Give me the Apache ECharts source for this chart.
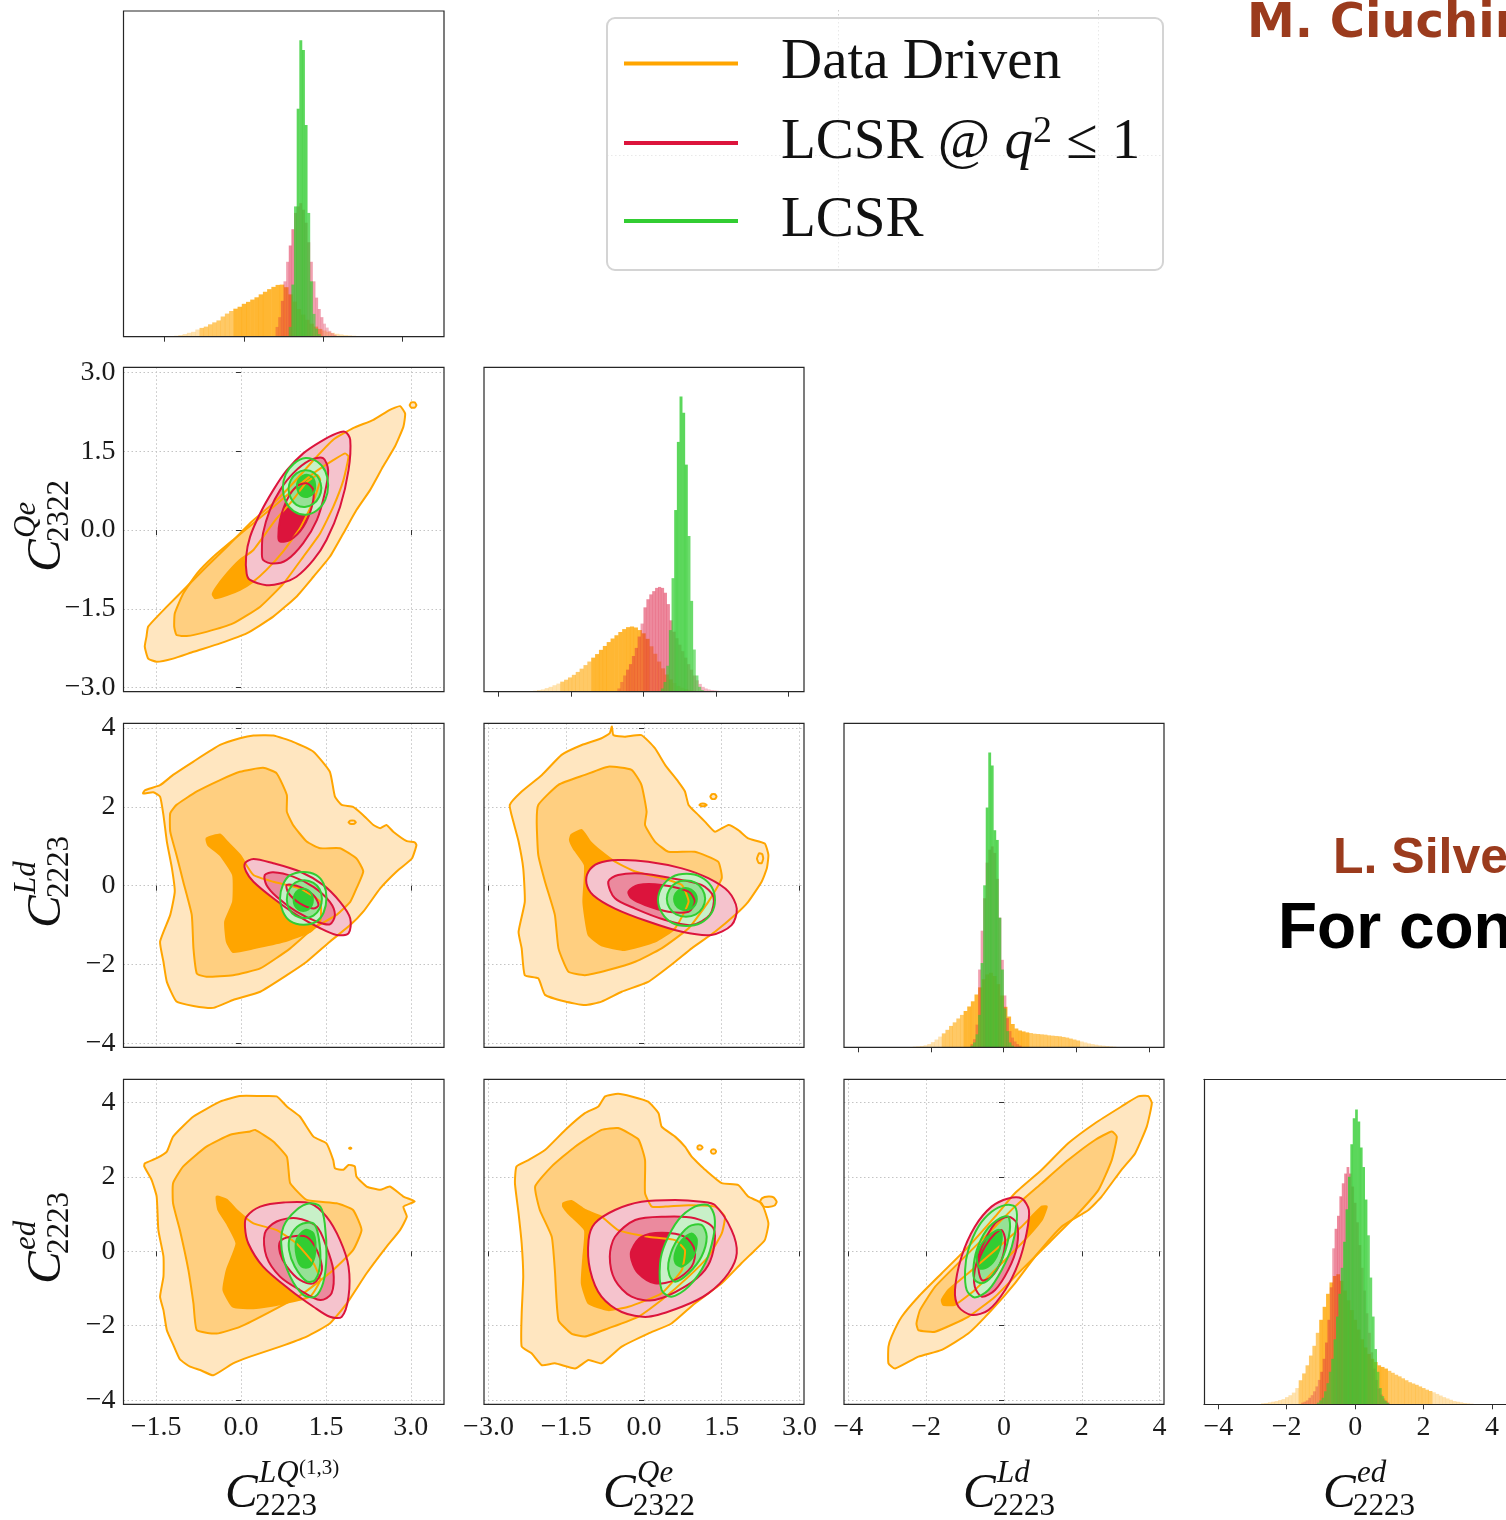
<!DOCTYPE html>
<html>
<head>
<meta charset="utf-8">
<script src="https://cdn.jsdelivr.net/npm/echarts@6/dist/echarts.min.js"></script>
<style>
  html, body { margin: 0; padding: 0; background: #ffffff; }
  #chart { width: 1506px; height: 1520px; }
</style>
</head>
<body>
<div id="chart"></div>
<script>
// ---------------------------------------------------------------------------
// Series names
// ---------------------------------------------------------------------------
const N_DD = 'Data Driven';
const N_LQ1 = 'LCSR @ q\u00b2 \u2264 1';
const N_LCSR = 'LCSR';

// ---------------------------------------------------------------------------
// 1-D marginals: [first bin edge, bin width] and bin heights (relative density)
// ---------------------------------------------------------------------------
// C_2223^LQ(1,3)
const binLQ_dd = [-1.32, 0.08];
const hLQ_dd = [0.003,0.005,0.008,0.012,0.015,0.022,0.027,0.031,0.038,0.044,0.05,0.062,0.071,0.079,0.086,0.092,0.101,0.107,0.114,0.121,0.13,0.138,0.146,0.153,0.159,0.16,0.152,0.13,0.108,0.085,0.068,0.052,0.04,0.031,0.024,0.019,0.015,0.012,0.009,0.007,0.005,0.004,0.003,0.002];
const binLQ_lq1 = [0.60, 0.05];
const hLQ_lq1 = [0.03,0.06,0.11,0.17,0.23,0.28,0.33,0.38,0.40,0.41,0.39,0.35,0.29,0.23,0.17,0.12,0.085,0.06,0.04,0.028,0.018,0.011,0.006];
const binLQ_lcsr = [0.85, 0.05];
const hLQ_lcsr = [0.03,0.16,0.40,0.70,0.91,0.88,0.65,0.38,0.17,0.07,0.025,0.008];

// C_2322^Qe
const binQe_dd = [-2.28, 0.08];
const hQe_dd = [0.003,0.005,0.007,0.011,0.015,0.02,0.025,0.031,0.037,0.044,0.052,0.061,0.071,0.082,0.093,0.105,0.116,0.129,0.141,0.153,0.164,0.174,0.184,0.193,0.199,0.201,0.198,0.19,0.18,0.163,0.14,0.117,0.093,0.072,0.053,0.038,0.027,0.018,0.012,0.008,0.005,0.003,0.002];
const binQe_lq1 = [-0.54, 0.06];
const hQe_lq1 = [0.01,0.03,0.05,0.068,0.085,0.11,0.135,0.17,0.21,0.26,0.285,0.30,0.31,0.32,0.323,0.32,0.305,0.27,0.22,0.185,0.165,0.145,0.125,0.105,0.085,0.068,0.05,0.035,0.024,0.015,0.01,0.007,0.005,0.004,0.003,0.002];
const binQe_lcsr = [0.36, 0.055];
const hQe_lcsr = [0.01,0.03,0.08,0.19,0.35,0.56,0.77,0.91,0.86,0.70,0.48,0.28,0.13,0.05,0.015,0.005];

// C_2223^Ld
const binLd_dd = [-2.5, 0.1];
const hLd_dd = [0.002,0.003,0.004,0.006,0.01,0.016,0.024,0.033,0.043,0.054,0.066,0.077,0.089,0.10,0.112,0.126,0.142,0.163,0.185,0.21,0.225,0.23,0.22,0.195,0.16,0.125,0.095,0.072,0.058,0.052,0.049,0.046,0.044,0.042,0.041,0.04,0.039,0.037,0.036,0.035,0.034,0.032,0.03,0.027,0.024,0.021,0.018,0.015,0.012,0.01,0.008,0.006,0.005,0.004,0.003,0.002,0.001];
const binLd_lq1 = [-0.91, 0.07];
const hLd_lq1 = [0.01,0.025,0.07,0.24,0.36,0.46,0.57,0.61,0.62,0.60,0.52,0.40,0.27,0.16,0.09,0.05,0.03,0.018,0.01,0.005];
const binLd_lcsr = [-0.91, 0.07];
const hLd_lcsr = [0.005,0.015,0.04,0.10,0.26,0.50,0.74,0.91,0.87,0.67,0.64,0.40,0.24,0.12,0.05,0.015,0.005];

// C_2223^ed
const binEd_dd = [-2.75, 0.1];
const hEd_dd = [0.003,0.004,0.006,0.008,0.010,0.013,0.016,0.022,0.028,0.036,0.05,0.074,0.095,0.12,0.15,0.18,0.22,0.26,0.30,0.34,0.375,0.395,0.40,0.38,0.35,0.32,0.29,0.26,0.23,0.20,0.175,0.155,0.14,0.13,0.12,0.115,0.11,0.103,0.097,0.091,0.086,0.08,0.074,0.068,0.064,0.06,0.055,0.05,0.045,0.041,0.037,0.032,0.027,0.022,0.018,0.014,0.01,0.008,0.006,0.004,0.003,0.002,0.001];
const binEd_lq1 = [-1.58, 0.07];
const hEd_lq1 = [0.005,0.008,0.012,0.02,0.028,0.04,0.055,0.075,0.10,0.14,0.19,0.26,0.36,0.48,0.54,0.58,0.64,0.68,0.71,0.73,0.71,0.67,0.62,0.56,0.49,0.42,0.35,0.28,0.22,0.16,0.11,0.075,0.048,0.03,0.018,0.01,0.005];
const binEd_lcsr = [-1.12, 0.07];
const hEd_lcsr = [0.005,0.012,0.02,0.04,0.065,0.10,0.14,0.20,0.27,0.34,0.42,0.50,0.60,0.70,0.80,0.88,0.907,0.87,0.79,0.73,0.63,0.52,0.39,0.27,0.17,0.10,0.05,0.025,0.012,0.005];

// ---------------------------------------------------------------------------
// 2-D credible regions: [outer, middle, inner] contour paths, plus stray islands
// ---------------------------------------------------------------------------
// x: LQ, y: Qe
const cLQQe_dd = [
  [[-1.64,-1.84],[-1.31,-1.46],[-0.96,-1.08],[-0.61,-0.70],[-0.22,-0.29],[0.16,0.13],[0.57,0.51],[0.92,0.89],[1.28,1.33],[1.63,1.72],[1.98,1.94],[2.34,2.10],[2.63,2.29],[2.81,2.36],[2.90,2.22],[2.87,1.97],[2.72,1.59],[2.51,1.21],[2.28,0.76],[2.04,0.38],[1.81,-0.06],[1.57,-0.51],[1.28,-0.89],[0.98,-1.27],[0.57,-1.65],[0.10,-1.97],[-0.37,-2.16],[-0.84,-2.32],[-1.20,-2.45],[-1.49,-2.51],[-1.64,-2.45],[-1.70,-2.22],[-1.67,-2.03]],
  [[-1.18,-1.84],[-1.14,-2.00],[-0.96,-2.02],[-0.61,-1.94],[-0.14,-1.78],[0.34,-1.46],[0.75,-1.02],[1.10,-0.51],[1.40,-0.06],[1.63,0.44],[1.81,0.95],[1.90,1.40],[1.84,1.46],[1.63,1.33],[1.28,1.08],[0.92,0.76],[0.57,0.44],[0.22,0.13],[-0.14,-0.19],[-0.49,-0.51],[-0.78,-0.83],[-1.02,-1.21],[-1.17,-1.59]],
  [[-0.50,-1.22],[-0.46,-1.30],[-0.25,-1.24],[-0.02,-1.14],[0.22,-0.98],[0.45,-0.76],[0.75,-0.40],[1.05,0.05],[1.28,0.55],[1.40,0.95],[1.35,1.05],[1.15,0.90],[0.90,0.55],[0.60,0.18],[0.22,-0.38],[-0.02,-0.57],[-0.25,-0.83],[-0.43,-1.08]]
];
const cLQQe_ddIsl = [
  [[3.10,2.38],[3.07,2.43],[3.01,2.43],[2.98,2.38],[3.01,2.33],[3.07,2.33]]
];
const cLQQe_lq1 = [
  [[0.16,-0.95],[0.45,-1.05],[0.69,-1.02],[0.98,-0.89],[1.28,-0.57],[1.51,-0.19],[1.75,0.44],[1.90,1.14],[1.93,1.72],[1.84,1.87],[1.69,1.84],[1.40,1.68],[1.10,1.46],[0.81,1.14],[0.57,0.76],[0.34,0.32],[0.16,-0.13],[0.09,-0.51],[0.10,-0.83]],
  [[0.39,-0.57],[0.57,-0.64],[0.81,-0.57],[1.10,-0.25],[1.34,0.19],[1.48,0.70],[1.54,1.14],[1.45,1.37],[1.22,1.33],[0.92,1.08],[0.69,0.76],[0.51,0.38],[0.39,-0.06],[0.37,-0.38]],
  [[0.69,-0.22],[0.87,-0.19],[1.10,0.06],[1.25,0.44],[1.28,0.76],[1.16,0.89],[0.98,0.83],[0.81,0.57],[0.69,0.19],[0.66,-0.13]]
];
const cLQQe_lcsr = [
  [[1.54,0.86],[1.49,1.12],[1.35,1.30],[1.14,1.37],[0.93,1.26],[0.79,1.06],[0.74,0.80],[0.79,0.54],[0.93,0.36],[1.14,0.29],[1.35,0.38],[1.49,0.58]],
  [[1.42,0.80],[1.38,0.97],[1.28,1.10],[1.13,1.14],[0.98,1.08],[0.88,0.95],[0.84,0.78],[0.88,0.61],[0.98,0.48],[1.13,0.44],[1.28,0.50],[1.38,0.63]],
  [[1.31,0.86],[1.28,0.98],[1.21,1.04],[1.13,1.05],[1.05,1.00],[1.00,0.92],[0.99,0.82],[1.02,0.71],[1.09,0.64],[1.17,0.63],[1.25,0.67],[1.30,0.75]]
];

// x: LQ, y: Ld
const cLQLd_dd = [
  [[-1.73,2.34],[-1.55,2.37],[-1.43,2.26],[-1.37,1.79],[-1.31,1.12],[-1.22,0.44],[-1.17,-0.15],[-1.25,-0.74],[-1.43,-1.42],[-1.37,-1.93],[-1.31,-2.44],[-1.14,-2.94],[-0.84,-3.05],[-0.49,-3.10],[-0.14,-2.90],[0.34,-2.69],[0.81,-2.27],[1.16,-1.93],[1.57,-1.42],[1.93,-1.00],[2.16,-0.66],[2.46,-0.07],[2.75,0.36],[3.02,0.69],[3.10,1.03],[3.07,1.10],[2.93,1.13],[2.69,1.37],[2.57,1.54],[2.46,1.46],[2.34,1.54],[2.16,1.79],[1.98,2.00],[1.78,2.05],[1.66,2.26],[1.57,2.89],[1.28,3.40],[0.92,3.65],[0.57,3.81],[0.22,3.81],[-0.02,3.74],[-0.37,3.57],[-0.84,3.15],[-1.20,2.81],[-1.43,2.55],[-1.70,2.42]],
  [[-1.25,1.84],[-1.14,2.05],[-0.78,2.39],[-0.37,2.68],[-0.02,2.89],[0.39,2.99],[0.63,2.85],[0.81,2.30],[0.81,1.88],[0.92,1.54],[1.16,1.12],[1.40,0.95],[1.75,0.95],[2.04,0.69],[2.16,0.36],[2.04,-0.07],[1.93,-0.41],[1.69,-0.74],[1.28,-1.08],[0.87,-1.59],[0.34,-2.10],[-0.14,-2.27],[-0.61,-2.31],[-0.78,-2.23],[-0.84,-1.59],[-0.87,-0.74],[-1.02,0.10],[-1.14,0.78],[-1.25,1.37]],
  [[-0.61,1.20],[-0.37,1.30],[-0.25,1.12],[-0.02,0.78],[0.22,0.27],[0.57,0.10],[1.04,-0.07],[1.40,-0.41],[1.40,-0.91],[1.22,-1.17],[0.75,-1.42],[0.22,-1.59],[-0.14,-1.68],[-0.25,-1.42],[-0.28,-0.91],[-0.14,-0.41],[-0.14,0.27],[-0.37,0.78],[-0.58,1.03]]
];
const cLQLd_ddIsl = [
  [[2.03,1.61],[2.00,1.65],[1.93,1.65],[1.90,1.61],[1.93,1.57],[2.00,1.57]]
];
const cLQLd_lq1 = [
  [[0.07,0.57],[0.22,0.68],[0.57,0.57],[1.04,0.36],[1.45,0.02],[1.75,-0.41],[1.93,-0.83],[1.90,-1.21],[1.69,-1.25],[1.40,-1.08],[0.98,-0.74],[0.57,-0.32],[0.22,0.10],[0.09,0.36]],
  [[0.42,0.27],[0.57,0.34],[0.92,0.23],[1.28,-0.03],[1.57,-0.41],[1.66,-0.74],[1.57,-0.98],[1.34,-0.91],[0.98,-0.66],[0.63,-0.28],[0.45,0.02]],
  [[0.81,0.02],[1.04,-0.03],[1.28,-0.24],[1.37,-0.49],[1.28,-0.58],[1.04,-0.45],[0.84,-0.19]]
];
const cLQLd_lcsr = [
  [[1.51,-0.30],[1.46,0.05],[1.33,0.27],[1.10,0.35],[0.86,0.26],[0.74,0.02],[0.69,-0.32],[0.74,-0.66],[0.87,-0.90],[1.10,-0.99],[1.33,-0.91],[1.46,-0.68]],
  [[1.43,-0.33],[1.39,-0.09],[1.28,0.07],[1.12,0.14],[0.96,0.08],[0.85,-0.10],[0.81,-0.35],[0.85,-0.59],[0.96,-0.76],[1.12,-0.82],[1.28,-0.76],[1.39,-0.58]],
  [[1.27,-0.36],[1.25,-0.22],[1.19,-0.12],[1.10,-0.08],[1.01,-0.12],[0.95,-0.22],[0.93,-0.36],[0.95,-0.50],[1.01,-0.60],[1.10,-0.64],[1.19,-0.60],[1.25,-0.50]]
];

// x: Qe, y: Ld
const cQeLd_dd = [
  [[-2.59,2.05],[-2.36,2.39],[-1.97,2.81],[-1.59,3.32],[-1.20,3.57],[-0.82,3.74],[-0.66,3.87],[-0.62,4.04],[-0.59,3.82],[-0.37,3.78],[-0.05,3.82],[0.21,3.49],[0.41,3.06],[0.66,2.64],[0.79,2.39],[0.86,2.05],[1.05,1.79],[1.18,1.62],[1.37,1.37],[1.63,1.54],[1.82,1.41],[2.01,1.20],[2.33,1.07],[2.40,0.78],[2.37,0.44],[2.27,0.10],[2.01,-0.41],[1.76,-0.74],[1.37,-1.17],[0.92,-1.59],[0.60,-1.93],[0.08,-2.44],[-0.43,-2.69],[-0.82,-2.94],[-1.14,-3.03],[-1.52,-2.94],[-1.91,-2.77],[-2.04,-2.35],[-2.30,-2.27],[-2.36,-1.59],[-2.42,-1.17],[-2.30,-0.41],[-2.33,0.44],[-2.42,1.12],[-2.52,1.62]],
  [[-2.04,2.05],[-1.65,2.56],[-1.14,2.81],[-0.69,3.02],[-0.24,2.94],[-0.05,2.56],[0.05,1.88],[0.02,1.54],[0.21,1.12],[0.47,0.86],[0.98,0.86],[1.43,0.61],[1.50,0.19],[1.24,-0.41],[0.86,-1.08],[0.34,-1.59],[-0.17,-1.93],[-0.69,-2.14],[-1.14,-2.27],[-1.46,-2.18],[-1.65,-1.59],[-1.72,-0.74],[-1.91,0.10],[-2.04,0.78],[-2.07,1.62]],
  [[-1.40,1.29],[-1.20,1.41],[-1.04,1.12],[-0.82,0.86],[-0.56,0.61],[-0.17,0.36],[0.34,0.19],[0.73,0.02],[0.86,-0.41],[0.60,-1.08],[0.21,-1.42],[-0.37,-1.63],[-0.82,-1.51],[-1.07,-1.25],[-1.17,-0.41],[-1.14,0.52],[-1.36,0.95],[-1.43,1.16]]
];
const cQeLd_ddIsl = [
  [[1.40,2.26],[1.37,2.32],[1.31,2.32],[1.28,2.26],[1.31,2.20],[1.37,2.20]],
  [[1.21,2.05],[1.17,2.08],[1.10,2.08],[1.07,2.05],[1.10,2.02],[1.17,2.02]],
  [[2.30,0.69],[2.28,0.80],[2.22,0.82],[2.18,0.69],[2.21,0.58],[2.27,0.57]]
];
const cQeLd_lq1 = [
  [[-1.07,0.36],[-0.88,0.57],[-0.50,0.65],[0.08,0.61],[0.73,0.44],[1.24,0.19],[1.63,-0.15],[1.79,-0.58],[1.69,-1.00],[1.30,-1.25],[0.73,-1.17],[0.08,-0.91],[-0.56,-0.58],[-0.98,-0.24],[-1.11,0.06]],
  [[-0.69,0.10],[-0.50,0.27],[-0.05,0.31],[0.53,0.19],[1.11,0.02],[1.34,-0.28],[1.27,-0.74],[0.92,-1.00],[0.41,-0.87],[-0.17,-0.58],[-0.56,-0.32]],
  [[-0.30,-0.15],[-0.11,0.02],[0.34,0.02],[0.86,-0.15],[0.98,-0.41],[0.86,-0.66],[0.47,-0.66],[0.02,-0.49],[-0.24,-0.32]]
];
const cQeLd_lcsr = [
  [[1.37,-0.36],[1.30,-0.02],[1.10,0.22],[0.82,0.30],[0.54,0.22],[0.35,-0.02],[0.27,-0.36],[0.35,-0.70],[0.54,-0.94],[0.82,-1.02],[1.10,-0.94],[1.30,-0.70]],
  [[1.18,-0.33],[1.13,-0.10],[1.00,0.07],[0.81,0.13],[0.62,0.07],[0.49,-0.10],[0.44,-0.33],[0.49,-0.56],[0.62,-0.73],[0.81,-0.79],[1.00,-0.73],[1.13,-0.56]],
  [[1.02,-0.34],[0.99,-0.20],[0.91,-0.10],[0.80,-0.06],[0.69,-0.10],[0.61,-0.20],[0.58,-0.34],[0.61,-0.48],[0.69,-0.58],[0.80,-0.62],[0.91,-0.58],[0.99,-0.48]]
];

// x: LQ, y: ed
const cLQEd_dd = [
  [[-1.70,2.36],[-1.49,2.50],[-1.31,2.68],[-1.20,3.08],[-0.84,3.62],[-0.37,4.02],[-0.02,4.17],[0.34,4.17],[0.63,4.16],[0.81,3.89],[1.04,3.62],[1.28,3.08],[1.51,2.90],[1.63,2.45],[1.66,2.23],[1.81,2.19],[1.90,2.32],[2.01,2.28],[2.04,2.01],[2.22,1.74],[2.46,1.65],[2.63,1.74],[2.87,1.47],[3.07,1.34],[2.87,1.20],[2.93,0.93],[2.81,0.57],[2.57,0.12],[2.22,-0.59],[1.87,-1.40],[1.57,-1.94],[1.16,-2.29],[0.69,-2.56],[0.16,-2.83],[-0.14,-3.01],[-0.49,-3.33],[-0.72,-3.19],[-0.90,-3.10],[-1.08,-2.90],[-1.20,-2.50],[-1.31,-2.12],[-1.37,-1.58],[-1.43,-1.22],[-1.37,-0.68],[-1.37,-0.14],[-1.46,0.57],[-1.49,1.47],[-1.58,1.92],[-1.71,2.28]],
  [[-1.20,1.83],[-1.02,2.28],[-0.61,2.81],[-0.19,3.13],[0.16,3.22],[0.25,3.26],[0.57,2.95],[0.81,2.54],[0.84,2.19],[0.87,1.83],[1.16,1.38],[1.69,1.29],[1.98,1.11],[2.13,0.57],[1.98,0.03],[1.63,-0.50],[1.10,-1.13],[0.57,-1.58],[-0.02,-2.03],[-0.43,-2.21],[-0.78,-2.12],[-0.84,-1.40],[-0.93,-0.50],[-1.08,0.57],[-1.20,1.29]],
  [[-0.43,1.47],[-0.25,1.38],[-0.08,1.11],[0.22,0.75],[0.63,0.57],[0.98,0.21],[1.28,-0.32],[1.40,-0.77],[1.22,-1.22],[0.75,-1.40],[0.22,-1.53],[-0.14,-1.49],[-0.31,-1.04],[-0.25,-0.50],[-0.08,0.21],[-0.25,0.75],[-0.40,1.11]]
];
const cLQEd_ddIsl = [
  [[1.95,2.77],[1.93,2.79],[1.91,2.77],[1.93,2.75]]
];
const cLQEd_lq1 = [
  [[0.10,0.93],[0.34,1.20],[0.75,1.31],[1.22,1.29],[1.51,0.93],[1.75,0.30],[1.90,-0.41],[1.90,-1.22],[1.78,-1.76],[1.57,-1.76],[1.28,-1.49],[0.87,-1.04],[0.39,-0.41],[0.13,0.21],[0.07,0.66]],
  [[0.42,0.48],[0.63,0.80],[0.98,0.89],[1.34,0.66],[1.51,0.12],[1.63,-0.50],[1.60,-1.13],[1.40,-1.31],[1.04,-1.04],[0.69,-0.68],[0.45,-0.14]],
  [[0.69,0.26],[0.87,0.39],[1.16,0.39],[1.34,0.03],[1.43,-0.50],[1.28,-0.86],[1.04,-0.77],[0.81,-0.41],[0.69,-0.05]]
];
const cLQEd_lcsr = [
  [[0.75,0.66],[0.98,1.11],[1.22,1.29],[1.40,1.20],[1.48,0.75],[1.51,-0.14],[1.45,-0.86],[1.31,-1.22],[1.10,-1.17],[0.87,-0.68],[0.72,0.03]],
  [[0.87,0.39],[1.04,0.71],[1.28,0.75],[1.37,0.39],[1.40,-0.32],[1.31,-0.77],[1.16,-0.81],[0.95,-0.41],[0.85,0.03]],
  [[0.98,0.30],[1.13,0.57],[1.28,0.48],[1.31,-0.05],[1.22,-0.41],[1.07,-0.41],[0.98,-0.10]]
];

// x: Qe, y: ed
const cQeEd_dd = [
  [[-2.46,2.28],[-2.23,2.45],[-1.91,2.72],[-1.52,3.26],[-1.14,3.71],[-0.88,3.89],[-0.75,4.16],[-0.50,4.23],[-0.24,4.16],[0.08,4.02],[0.28,3.71],[0.34,3.35],[0.60,3.08],[0.79,2.81],[0.92,2.54],[1.05,2.36],[1.18,2.19],[1.50,1.83],[1.82,1.78],[2.01,1.47],[2.27,1.29],[2.40,0.75],[2.33,0.30],[2.14,0.03],[1.88,-0.32],[1.50,-0.86],[0.98,-1.40],[0.53,-1.94],[0.08,-2.21],[-0.43,-2.56],[-0.82,-3.01],[-1.07,-2.92],[-1.33,-3.15],[-1.72,-3.01],[-1.97,-3.06],[-2.17,-2.74],[-2.36,-2.56],[-2.36,-1.67],[-2.33,-0.68],[-2.36,0.21],[-2.42,1.02],[-2.49,1.83]],
  [[-2.10,1.74],[-1.78,2.28],[-1.33,2.81],[-0.82,3.26],[-0.50,3.31],[-0.11,3.01],[0.02,2.45],[0.02,1.56],[0.15,1.20],[0.41,1.20],[0.86,1.24],[1.37,1.20],[1.56,0.93],[1.50,0.48],[1.24,-0.14],[0.86,-0.68],[0.34,-1.31],[-0.11,-1.76],[-0.69,-2.07],[-1.14,-2.29],[-1.40,-2.21],[-1.65,-1.85],[-1.72,-0.50],[-1.78,0.39],[-2.01,1.11]],
  [[-1.56,1.29],[-1.40,1.35],[-1.14,1.11],[-0.82,0.93],[-0.50,0.57],[0.08,0.39],[0.60,0.30],[0.79,0.03],[0.73,-0.50],[0.34,-1.13],[-0.30,-1.49],[-0.69,-1.58],[-1.07,-1.40],[-1.20,-0.86],[-1.17,-0.14],[-1.14,0.57],[-1.46,1.02],[-1.56,1.20]]
];
const cQeEd_ddIsl = [
  [[1.13,2.79],[1.10,2.84],[1.05,2.84],[1.03,2.79],[1.05,2.74],[1.10,2.74]],
  [[1.39,2.68],[1.37,2.73],[1.31,2.73],[1.29,2.68],[1.31,2.63],[1.37,2.63]],
  [[2.56,1.33],[2.50,1.45],[2.40,1.47],[2.28,1.43],[2.24,1.33],[2.30,1.21],[2.40,1.19],[2.52,1.23]]
];
const cQeEd_lq1 = [
  [[-1.07,0.30],[-0.95,0.75],[-0.56,1.11],[-0.05,1.33],[0.60,1.38],[1.11,1.33],[1.37,1.24],[1.69,0.57],[1.79,-0.05],[1.63,-0.59],[1.24,-1.13],[0.73,-1.49],[0.08,-1.76],[-0.43,-1.63],[-0.82,-1.22],[-1.04,-0.50]],
  [[-0.66,-0.14],[-0.56,0.39],[-0.17,0.84],[0.41,0.93],[0.98,0.89],[1.34,0.62],[1.34,0.03],[1.18,-0.50],[0.79,-0.95],[0.21,-1.31],[-0.24,-1.22],[-0.56,-0.77]],
  [[-0.24,0.03],[-0.05,0.39],[0.34,0.50],[0.79,0.39],[0.98,0.03],[0.92,-0.41],[0.60,-0.77],[0.21,-0.86],[-0.11,-0.59],[-0.24,-0.23]]
];
const cQeEd_lcsr = [
  [[0.31,-0.32],[0.41,0.21],[0.66,0.84],[0.98,1.20],[1.24,1.24],[1.36,0.93],[1.34,0.39],[1.18,-0.32],[0.86,-0.95],[0.53,-1.22],[0.34,-1.04]],
  [[0.47,-0.32],[0.60,0.21],[0.86,0.66],[1.11,0.71],[1.21,0.39],[1.11,-0.14],[0.86,-0.59],[0.60,-0.82],[0.49,-0.64]],
  [[0.60,-0.05],[0.73,0.30],[0.92,0.48],[1.02,0.30],[0.95,-0.14],[0.73,-0.41],[0.61,-0.32]]
];

// x: Ld, y: ed
const cLdEd_dd = [
  [[-2.97,-2.56],[-2.97,-3.01],[-2.80,-3.15],[-2.20,-2.83],[-1.60,-2.65],[-0.92,-2.21],[-0.32,-1.58],[0.28,-0.86],[0.80,-0.14],[1.48,0.66],[2.17,1.11],[2.51,1.47],[3.02,2.19],[3.37,2.63],[3.67,3.35],[3.80,3.98],[3.71,4.17],[3.45,4.16],[3.02,3.89],[2.34,3.44],[1.65,2.90],[0.97,2.19],[0.28,1.56],[-0.23,0.93],[-0.92,0.12],[-1.60,-0.59],[-2.20,-1.22],[-2.63,-1.76],[-2.89,-2.29]],
  [[-2.25,-1.94],[-2.20,-2.12],[-1.77,-2.16],[-0.92,-1.76],[-0.23,-1.22],[0.45,-0.50],[1.14,0.21],[1.83,0.93],[2.43,1.65],[2.77,2.45],[2.90,3.08],[2.77,3.22],[2.34,2.99],[1.65,2.45],[0.97,1.83],[0.28,1.20],[-0.40,0.48],[-1.09,-0.23],[-1.77,-0.95],[-2.16,-1.58]],
  [[-1.60,-1.31],[-1.43,-1.04],[-0.92,-0.59],[-0.23,0.03],[0.45,0.66],[0.97,1.20],[1.10,1.20],[0.97,0.84],[0.45,0.21],[-0.23,-0.50],[-0.75,-1.04],[-1.26,-1.44],[-1.56,-1.44]]
];
const cLdEd_lq1 = [
  [[-1.26,-1.04],[-1.09,-0.14],[-0.75,0.66],[-0.32,1.20],[0.11,1.42],[0.45,1.42],[0.64,1.11],[0.58,0.48],[0.37,-0.32],[0.03,-1.04],[-0.40,-1.58],[-0.83,-1.71],[-1.17,-1.49]],
  [[-0.75,-0.50],[-0.57,0.12],[-0.23,0.75],[0.11,0.93],[0.33,0.75],[0.33,0.12],[0.11,-0.50],[-0.23,-1.04],[-0.57,-1.22],[-0.75,-0.95]],
  [[-0.66,-0.32],[-0.49,0.12],[-0.23,0.48],[-0.06,0.57],[0.03,0.30],[-0.06,-0.23],[-0.32,-0.68],[-0.57,-0.77]]
];
const cLdEd_lcsr = [
  [[-1.00,-0.50],[-0.92,0.03],[-0.66,0.66],[-0.32,1.06],[0.03,1.24],[0.28,1.20],[0.33,0.84],[0.20,0.12],[-0.06,-0.50],[-0.40,-1.04],[-0.75,-1.24],[-0.96,-1.04]],
  [[-0.79,-0.50],[-0.70,0.03],[-0.45,0.57],[-0.10,0.89],[0.11,0.93],[0.15,0.57],[-0.02,-0.14],[-0.32,-0.68],[-0.57,-0.86],[-0.75,-0.77]],
  [[-0.70,-0.14],[-0.57,0.21],[-0.32,0.48],[-0.10,0.57],[-0.06,0.30],[-0.19,-0.14],[-0.40,-0.41],[-0.62,-0.46]]
];

// ---------------------------------------------------------------------------
// Axis tick values
// ---------------------------------------------------------------------------
const ticksLQ = [-1.5, 0, 1.5, 3];
const ticksQe = [-3, -1.5, 0, 1.5, 3];
const ticksLd = [-4, -2, 0, 2, 4];
const ticksEd = [-4, -2, 0, 2, 4];

// ---------------------------------------------------------------------------
// Styling
// ---------------------------------------------------------------------------
const SERIF = '"Liberation Serif", "Times New Roman", serif';
const RGB = { dd: '255,165,0', lq1: '220,20,60', lcsr: '50,205,50' };
const HIST_ALPHA = { dd: [0.32, 0.6, 0.8], lq1: [0.3, 0.4, 0.5], lcsr: [0.6, 0.72, 0.8] };
const LINE = { dd: '#FFA500', lq1: '#DC143C', lcsr: '#32CD32' };
const FILL = {
  dd:   ['#FFE6C0', '#FFCF80', '#FFA500'],
  lq1:  ['#F5C3CD', '#EB8A9E', '#DC143C'],
  lcsr: ['#C8F0C8', '#96E196', '#32CD32']
};
const NAME = { dd: N_DD, lq1: N_LQ1, lcsr: N_LCSR };
const FRAME = { color: '#262626', width: 1.2 };

// panel layout of the corner plot (the last column runs past the right edge)
const COL_LEFT = [123.5, 484, 844, 1204];
const COL_W = [320.5, 320, 320, 302];
const ROW_TOP = [11, 367.3, 723.3, 1079.3];
const ROW_H = [325.7, 324.4, 324, 325];

function fmt(dec) {
  return v => (v < 0 ? '\u2212' : '') + Math.abs(v).toFixed(dec);
}

const grid = [], xAxis = [], yAxis = [], series = [];
const extraAxes = [];

function axisOpt(gi, dir, range, ticks, dec, showLabels, showGrid) {
  return {
    type: 'value', gridIndex: gi, min: range[0], max: range[1],
    position: dir === 'x' ? 'bottom' : 'left',
    axisLine: { show: false },
    axisTick: { show: true, inside: false, length: 5, lineStyle: { color: '#333', width: 1 }, customValues: ticks },
    axisLabel: { show: showLabels, customValues: ticks, formatter: fmt(dec), fontFamily: SERIF, fontSize: 28, color: '#1b1b1b', margin: dir === 'x' ? 9 : 8 },
    splitLine: { show: showGrid, lineStyle: { color: '#c4c4c4', width: 1, type: [1.5, 2.5] } }
  };
}

function panel(row, col, xr, xt, xDec, yr, yt, yDec, isCont) {
  const gi = grid.length;
  const open = col === 3;   // frame is cut by the page edge: draw three sides only
  grid.push({
    left: COL_LEFT[col], top: ROW_TOP[row], width: COL_W[col], height: ROW_H[row],
    show: !open, borderColor: FRAME.color, borderWidth: FRAME.width, backgroundColor: 'rgba(0,0,0,0)', z: 10
  });
  const xa = axisOpt(gi, 'x', xr, xt, xDec, row === 3, isCont);
  if (open) { xa.axisLine = { show: true, onZero: false, lineStyle: FRAME }; xa.z = 10; }
  xAxis.push(xa);
  if (isCont) {
    yAxis.push(axisOpt(gi, 'y', yr, yt, yDec, col === 0, true));
  } else if (open) {
    yAxis.push({ type: 'value', gridIndex: gi, min: 0, max: 1, z: 10, position: 'left',
      axisLine: { show: true, onZero: false, lineStyle: FRAME }, axisTick: { show: false }, axisLabel: { show: false }, splitLine: { show: false } });
    extraAxes.push({ type: 'value', gridIndex: gi, position: 'top', min: xr[0], max: xr[1], z: 10,
      axisLine: { show: true, onZero: false, lineStyle: FRAME }, axisTick: { show: false }, axisLabel: { show: false }, splitLine: { show: false } });
  } else {
    yAxis.push({ type: 'value', gridIndex: gi, min: 0, max: 1, show: false });
  }
  return gi;
}

// histogram bins, shaded by the central 68% / 95% mass of each distribution
function addHist(gi, key, bin, heights) {
  const total = heights.reduce((a, b) => a + b, 0);
  let cum = 0;
  const items = heights.map((h, i) => {
    const mid = (cum + h / 2) / total;
    cum += h;
    const level = (mid > 0.16 && mid < 0.84) ? 2 : (mid > 0.025 && mid < 0.975) ? 1 : 0;
    return [bin[0] + i * bin[1], bin[0] + (i + 1) * bin[1], h, level];
  });
  series.push({
    type: 'custom', name: NAME[key], xAxisIndex: gi, yAxisIndex: gi, z: 2, silent: true,
    encode: { x: [0, 1], y: 2 },
    data: items,
    renderItem: (params, api) => {
      const a = api.coord([api.value(0), api.value(2)]);
      const b = api.coord([api.value(1), 0]);
      return {
        type: 'rect',
        shape: { x: a[0], y: a[1], width: b[0] - a[0] + 0.3, height: b[1] - a[1] },
        style: { fill: 'rgba(' + RGB[key] + ',' + HIST_ALPHA[key][api.value(3)] + ')' }
      };
    }
  });
}

// filled credible regions (layer 'fill') and their outlines (layer 'line')
function addContour(gi, key, levels, islands, layer) {
  const polys = levels.map((pts, k) => ({ pts, level: k }))
    .concat((islands || []).map(pts => ({ pts, level: 0 })));
  const smooth = key === 'dd' ? 0.15 : 0.3;
  series.push({
    type: 'custom', name: NAME[key], xAxisIndex: gi, yAxisIndex: gi,
    z: layer === 'fill' ? 2 : 3, silent: true,
    data: polys.map(p => p.pts[0]),
    renderItem: (params, api) => {
      const p = polys[params.dataIndex];
      const pts = p.pts.map(q => api.coord(q));
      const style = layer === 'fill'
        ? { fill: FILL[key][p.level], stroke: null }
        : { fill: null, stroke: LINE[key], lineWidth: 2 };
      return { type: 'polygon', shape: { points: pts, smooth }, style };
    }
  });
}

// ---------------------------------------------------------------------------
// Build the corner plot
// ---------------------------------------------------------------------------
const rLQc = [-2.076, 3.587], rQec = [-3.087, 3.087], rLdc = [-4.113, 4.113];
const rQeR = [-3.08, 3.10], rLdR = [-4.10, 4.12], rEdR = [-4.11, 4.62];

// diagonal marginals
const g00 = panel(0, 0, [-2.28, 3.79], ticksLQ, 1, null, null, 0, false);
addHist(g00, 'dd', binLQ_dd, hLQ_dd); addHist(g00, 'lq1', binLQ_lq1, hLQ_lq1); addHist(g00, 'lcsr', binLQ_lcsr, hLQ_lcsr);
const g11 = panel(1, 1, [-3.295, 3.317], ticksQe, 1, null, null, 0, false);
addHist(g11, 'dd', binQe_dd, hQe_dd); addHist(g11, 'lq1', binQe_lq1, hQe_lq1); addHist(g11, 'lcsr', binQe_lcsr, hQe_lcsr);
const g22 = panel(2, 2, [-4.394, 4.42], ticksLd, 0, null, null, 0, false);
addHist(g22, 'dd', binLd_dd, hLd_dd); addHist(g22, 'lq1', binLd_lq1, hLd_lq1); addHist(g22, 'lcsr', binLd_lcsr, hLd_lcsr);
const g33 = panel(3, 3, [-4.418, 4.41], ticksEd, 0, null, null, 0, false);
addHist(g33, 'dd', binEd_dd, hEd_dd); addHist(g33, 'lq1', binEd_lq1, hEd_lq1); addHist(g33, 'lcsr', binEd_lcsr, hEd_lcsr);

// off-diagonal joint regions
const pairs = [
  [1, 0, rLQc, ticksLQ, 1, rQeR, ticksQe, 1, cLQQe_dd, cLQQe_ddIsl, cLQQe_lq1, cLQQe_lcsr],
  [2, 0, rLQc, ticksLQ, 1, rLdR, ticksLd, 0, cLQLd_dd, cLQLd_ddIsl, cLQLd_lq1, cLQLd_lcsr],
  [2, 1, rQec, ticksQe, 1, rLdR, ticksLd, 0, cQeLd_dd, cQeLd_ddIsl, cQeLd_lq1, cQeLd_lcsr],
  [3, 0, rLQc, ticksLQ, 1, rEdR, ticksEd, 0, cLQEd_dd, cLQEd_ddIsl, cLQEd_lq1, cLQEd_lcsr],
  [3, 1, rQec, ticksQe, 1, rEdR, ticksEd, 0, cQeEd_dd, cQeEd_ddIsl, cQeEd_lq1, cQeEd_lcsr],
  [3, 2, rLdc, ticksLd, 0, rEdR, ticksEd, 0, cLdEd_dd, null, cLdEd_lq1, cLdEd_lcsr]
];
pairs.forEach(p => {
  const gi = panel(p[0], p[1], p[2], p[3], p[4], p[5], p[6], p[7], true);
  ['fill', 'line'].forEach(layer => {
    addContour(gi, 'dd', p[8], p[9], layer);
    addContour(gi, 'lq1', p[10], null, layer);
    addContour(gi, 'lcsr', p[11], null, layer);
  });
});

// faint guide lines behind the legend
const gV = grid.length;
grid.push({ left: 578, top: 10, width: 585, height: 260, show: false });
xAxis.push({ type: 'value', gridIndex: gV, min: 0, max: 2.25, interval: 1,
  axisLine: { show: false }, axisTick: { show: false }, axisLabel: { show: false },
  splitLine: { show: true, showMinLine: false, showMaxLine: false, lineStyle: { color: '#cfcfcf', type: [1.5, 2.5] } } });
yAxis.push({ type: 'value', gridIndex: gV, min: 0, max: 1,
  axisLine: { show: false }, axisTick: { show: false }, axisLabel: { show: false }, splitLine: { show: false } });
const gH = grid.length;
grid.push({ left: 607, top: 40, width: 556, height: 230, show: false });
xAxis.push({ type: 'value', gridIndex: gH, min: 0, max: 1,
  axisLine: { show: false }, axisTick: { show: false }, axisLabel: { show: false }, splitLine: { show: false } });
yAxis.push({ type: 'value', gridIndex: gH, min: 0, max: 2, interval: 1,
  axisLine: { show: false }, axisTick: { show: false }, axisLabel: { show: false },
  splitLine: { show: true, showMinLine: false, showMaxLine: false, lineStyle: { color: '#cfcfcf', type: [1.5, 2.5] } } });

// top edge of the open (page-cut) panel
extraAxes.forEach(a => xAxis.push(a));

// ---------------------------------------------------------------------------
// Axis titles (C with super/subscripts) and side notes
// ---------------------------------------------------------------------------
function txt(x, y, text, font, fill) {
  return { type: 'text', x, y, silent: true,
    style: { text, font, fill: fill || '#111', align: 'left', verticalAlign: 'middle', textAlign: 'left', textVerticalAlign: 'middle' } };
}
function mathTitle(x, y, rotation, sup, sub, supExtra) {
  const kids = [
    txt(0, 0, 'C', 'italic 49px ' + SERIF),
    txt(34, -20, sup, 'italic 31px ' + SERIF),
    txt(30, 13, sub, '31px ' + SERIF)
  ];
  if (supExtra) kids.push(txt(74, -26, supExtra, '21px ' + SERIF));
  return { type: 'group', x, y, rotation, silent: true, children: kids };
}

const graphic = [
  { type: 'rect', shape: { x: 607, y: 18, width: 556, height: 252, r: 8 }, z: 4, silent: true,
    style: { fill: 'rgba(255,255,255,0.55)', stroke: '#d4d4d4', lineWidth: 2 } },
  mathTitle(225, 1494, 0, 'LQ', '2223', '(1,3)'),
  mathTitle(603, 1494, 0, 'Qe', '2322'),
  mathTitle(963, 1494, 0, 'Ld', '2223'),
  mathTitle(1323, 1494, 0, 'ed', '2223'),
  mathTitle(47, 572, Math.PI / 2, 'Qe', '2322'),
  mathTitle(47, 928, Math.PI / 2, 'Ld', '2223'),
  mathTitle(47, 1284, Math.PI / 2, 'ed', '2223'),
  txt(1247, 25, 'M. Ciuchini', 'bold 48px "DejaVu Sans", sans-serif', '#9B3B1D'),
  txt(1333, 859, 'L. Silvestrini', 'bold 50px "Liberation Sans", sans-serif', '#9B3B1D'),
  txt(1278, 930, 'For con', 'bold 64px "Liberation Sans", sans-serif', '#000000')
];

// ---------------------------------------------------------------------------
const chart = echarts.init(document.getElementById('chart'), null, { renderer: 'canvas', width: 1506, height: 1520 });
chart.setOption({
  animation: false,
  backgroundColor: '#ffffff',
  grid, xAxis, yAxis, series, graphic,
  legend: {
    left: 624, top: 35, orient: 'vertical', z: 6, padding: 0,
    itemWidth: 114, itemHeight: 4, itemGap: 21, icon: 'rect', selectedMode: false,
    data: [
      { name: N_DD, itemStyle: { color: LINE.dd } },
      { name: N_LQ1, itemStyle: { color: LINE.lq1 } },
      { name: N_LCSR, itemStyle: { color: LINE.lcsr } }
    ],
    formatter: name => name === N_LQ1
      ? '{t|LCSR @ }{i|q}{s|2}{t| \u2264 1}'
      : '{t|' + name + '}',
    textStyle: {
      padding: [0, 0, 0, 38],
      rich: {
        t: { fontFamily: SERIF, fontSize: 57, lineHeight: 60, color: '#111' },
        i: { fontFamily: SERIF, fontStyle: 'italic', fontSize: 57, lineHeight: 60, color: '#111' },
        s: { fontFamily: SERIF, fontSize: 38, lineHeight: 38, verticalAlign: 'top', color: '#111' }
      }
    }
  }
});
</script>
</body>
</html>
